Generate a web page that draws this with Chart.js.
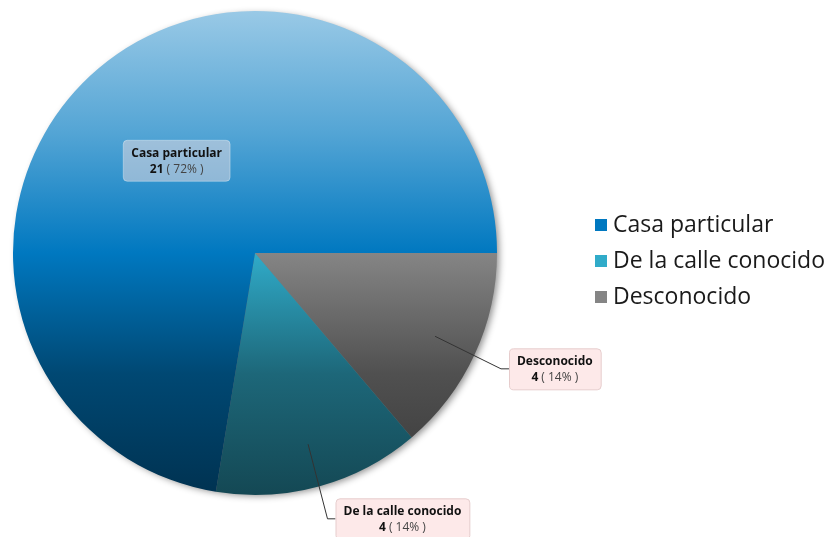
<!DOCTYPE html>
<html>
<head>
<meta charset="utf-8">
<script src="https://cdn.jsdelivr.net/npm/chart.js@4/dist/chart.umd.min.js"></script>
<style>
  html, body { margin: 0; padding: 0; background: #fff; }
  #wrap { width: 829px; height: 537px; }
</style>
</head>
<body>
<div id="wrap"><canvas id="pie" width="829" height="537"></canvas></div>
<script>
// Origin of the incident, counts per category
const categories = ['Casa particular', 'De la calle conocido', 'Desconocido'];
const counts = [21, 4, 4];
const baseColors = ['#0078c0', '#30abc9', '#858585'];

const FONT = "'Open Sans', 'Noto Sans', sans-serif";
const total = counts.reduce((a, b) => a + b, 0);

// Slices run counter-clockwise from 3 o'clock; Chart.js goes clockwise,
// so the dataset is fed in reverse order and rotated to start at 3 o'clock.
const order = categories.map((_, i) => i).reverse();

function hexToRgb(hex) {
    const n = parseInt(hex.slice(1), 16);
    return [(n >> 16) & 255, (n >> 8) & 255, n & 255];
}

function tint(hex, f) {
    // f > 0 mixes towards white, f < 0 scales towards black
    const c = hexToRgb(hex).map(v => f >= 0 ? v + (255 - v) * f : v * (1 + f));
    return 'rgb(' + c.map(Math.round).join(',') + ')';
}

function sliceFill(context) {
    const base = baseColors[order[context.dataIndex]];
    const area = context.chart.chartArea;
    if (!area) return base;
    const g = context.chart.ctx.createLinearGradient(0, area.top, 0, area.bottom);
    g.addColorStop(0, tint(base, 0.6));
    g.addColorStop(0.25, tint(base, 0.33));
    g.addColorStop(0.5, tint(base, 0));
    g.addColorStop(0.75, tint(base, -0.4));
    g.addColorStop(1, tint(base, -0.58));
    return g;
}

function roundRect(ctx, x, y, w, h, r) {
    ctx.beginPath();
    ctx.moveTo(x + r, y);
    ctx.lineTo(x + w - r, y);
    ctx.quadraticCurveTo(x + w, y, x + w, y + r);
    ctx.lineTo(x + w, y + h - r);
    ctx.quadraticCurveTo(x + w, y + h, x + w - r, y + h);
    ctx.lineTo(x + r, y + h);
    ctx.quadraticCurveTo(x, y + h, x, y + h - r);
    ctx.lineTo(x, y + r);
    ctx.quadraticCurveTo(x, y, x + r, y);
    ctx.closePath();
}

// Soft shadow behind the whole pie
const pieShadow = {
    id: 'pieShadow',
    beforeDatasetsDraw(chart) {
        const arc = chart.getDatasetMeta(0).data[0];
        if (!arc) return;
        const ctx = chart.ctx;
        ctx.save();
        ctx.shadowColor = 'rgba(0,0,0,0.45)';
        ctx.shadowBlur = 7;
        ctx.shadowOffsetX = 3;
        ctx.shadowOffsetY = 2;
        ctx.fillStyle = '#777';
        ctx.beginPath();
        ctx.arc(arc.x, arc.y, arc.outerRadius - 1, 0, Math.PI * 2);
        ctx.fill();
        ctx.restore();
    }
};

// Callout boxes: name on the first line, "count ( pct% )" on the second
const sliceLabels = {
    id: 'sliceLabels',
    afterDraw(chart) {
        const ctx = chart.ctx;
        const arcs = chart.getDatasetMeta(0).data;
        arcs.forEach((arc, i) => {
            const k = order[i];
            const name = categories[k];
            const countText = String(counts[k]);
            const pctText = ' ( ' + Math.round(counts[k] / total * 100) + '% )';
            const mid = (arc.startAngle + arc.endAngle) / 2;
            const R = arc.outerRadius;
            const inside = arc.endAngle - arc.startAngle > Math.PI;

            ctx.save();
            ctx.font = 'bold 12px ' + FONT;
            const nameW = ctx.measureText(name).width;
            const countW = ctx.measureText(countText).width;
            ctx.font = '12px ' + FONT;
            const pctW = ctx.measureText(pctText).width;
            const boxW = Math.max(nameW, countW + pctW) + 16;
            const boxH = 41;

            let bx, by;
            if (inside) {
                const cx = arc.x + Math.cos(mid) * R * 0.5;
                const cy = arc.y + Math.sin(mid) * R * 0.5;
                bx = cx - boxW / 2;
                by = cy - boxH / 2;
                roundRect(ctx, bx, by, boxW, boxH, 4);
                ctx.fillStyle = 'rgba(238, 222, 226, 0.5)';
                ctx.fill();
                ctx.strokeStyle = 'rgba(255,255,255,0.35)';
                ctx.lineWidth = 1;
                ctx.stroke();
            } else {
                const ax = arc.x + Math.cos(mid) * R * 0.82;
                const ay = arc.y + Math.sin(mid) * R * 0.82;
                const kx = arc.x + Math.cos(mid) * R * 1.12;
                const ky = arc.y + Math.sin(mid) * R * 1.14;
                bx = kx + 8;
                by = ky - boxH / 2;
                ctx.strokeStyle = '#333';
                ctx.lineWidth = 1;
                ctx.beginPath();
                ctx.moveTo(ax, ay);
                ctx.lineTo(kx, ky);
                ctx.lineTo(bx, ky);
                ctx.stroke();
                roundRect(ctx, bx + 0.5, by + 0.5, boxW, boxH, 4);
                ctx.fillStyle = '#fde9e9';
                ctx.fill();
                ctx.strokeStyle = '#e6cdcd';
                ctx.stroke();
            }

            const tx = bx + boxW / 2;
            ctx.textBaseline = 'middle';
            ctx.textAlign = 'center';
            ctx.fillStyle = '#111';
            ctx.font = 'bold 12px ' + FONT;
            ctx.fillText(name, tx, by + 13);
            const lineX = tx - (countW + pctW) / 2;
            ctx.textAlign = 'left';
            ctx.fillText(countText, lineX, by + 29);
            ctx.font = '12px ' + FONT;
            ctx.fillStyle = '#444';
            ctx.fillText(pctText, lineX + countW, by + 29);
            ctx.restore();
        });
    }
};

// Legend on the right, in category order
const sideLegend = {
    id: 'sideLegend',
    afterDraw(chart) {
        const ctx = chart.ctx;
        ctx.save();
        ctx.font = '23px ' + FONT;
        ctx.textBaseline = 'middle';
        ctx.textAlign = 'left';
        categories.forEach((label, i) => {
            const y = 225 + i * 36;
            ctx.fillStyle = baseColors[i];
            ctx.fillRect(595, y - 6, 12, 12);
            ctx.fillStyle = '#1a1a1a';
            ctx.fillText(label, 613, y);
        });
        ctx.restore();
    }
};

new Chart(document.getElementById('pie'), {
    type: 'pie',
    data: {
        labels: order.map(k => categories[k]),
        datasets: [{
            data: order.map(k => counts[k]),
            backgroundColor: sliceFill,
            borderWidth: 0,
            hoverOffset: 0
        }]
    },
    options: {
        responsive: false,
        animation: false,
        rotation: 90,
        layout: {
            padding: { left: 13, right: 332, top: 11, bottom: 42 }
        },
        plugins: {
            legend: { display: false },
            tooltip: { enabled: false }
        }
    },
    plugins: [pieShadow, sliceLabels, sideLegend]
});
</script>
</body>
</html>
